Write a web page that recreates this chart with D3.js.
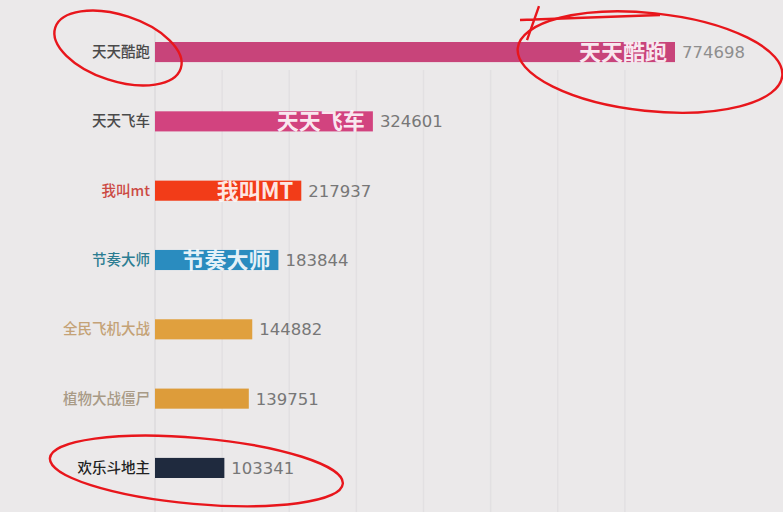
<!DOCTYPE html>
<html><head><meta charset="utf-8">
<script src="https://cdn.jsdelivr.net/npm/d3@7/dist/d3.min.js"></script>
<style>
html,body{margin:0;padding:0;background:#ebe9ea;}
svg{display:block;font-family:"Noto Sans CJK SC","Noto Sans",sans-serif;}
</style></head>
<body>
<svg id="chart" width="783" height="512"></svg>
<script>
const games = ["天天酷跑","天天飞车","我叫mt","节奏大师","全民飞机大战","植物大战僵尸","欢乐斗地主"];
const values = [774698, 324601, 217937, 183844, 144882, 139751, 103341];
const innerLabels = ["天天酷跑","天天飞车","我叫MT","节奏大师","","",""];
const barColors = ["#c8447a","#d2437f","#f23c18","#2a8cbf","#e0a03e","#dd9c3a","#1f2a3e"];
const labelColors = ["#4a4a4a","#4a4a4a","#cc4a44","#2d7d92","#c4a276","#a89a86","#222222"];
const tickValues = [0,100000,200000,300000,400000,500000,600000,700000];

const svg = d3.select("#chart");
const W = 783, H = 512;
const x = d3.scaleLinear().domain([0, 774698]).range([155, 675]);
const y = d3.scaleBand().domain(games).range([42, 478]).paddingInner(0.71).paddingOuter(0);

// grid
svg.append("g").selectAll("line").data(tickValues).join("line")
  .attr("x1", d => x(d)).attr("x2", d => x(d))
  .attr("y1", d => d === 0 ? 30 : 70).attr("y2", H)
  .attr("stroke", d => d === 0 ? "#dcdadc" : "#e2e0e2").attr("stroke-width", 1.5);

const rows = svg.append("g").selectAll("g").data(games).join("g");

rows.append("rect")
  .attr("x", x(0)).attr("y", d => y(d))
  .attr("width", (d,i) => x(values[i]) - x(0))
  .attr("height", y.bandwidth())
  .attr("fill", (d,i) => barColors[i]);

rows.append("text")
  .attr("x", x(0) - 5).attr("y", d => y(d) + y.bandwidth()/2)
  .attr("dy", "0.35em").attr("text-anchor", "end")
  .attr("font-size", 14.5).attr("font-weight", 500)
  .attr("fill", (d,i) => labelColors[i])
  .text(d => d);

rows.append("text")
  .attr("x", (d,i) => x(values[i]) - 8).attr("y", d => y(d) + y.bandwidth()/2)
  .attr("dy", "0.36em").attr("text-anchor", "end")
  .attr("font-size", 22).attr("font-weight", "bold")
  .attr("fill", "#ffffff").attr("fill-opacity", 0.9)
  .text((d,i) => innerLabels[i]);

rows.append("text")
  .attr("x", (d,i) => x(values[i]) + 7).attr("y", d => y(d) + y.bandwidth()/2)
  .attr("dy", "0.36em")
  .attr("font-size", 16.5).attr("font-family", "'DejaVu Sans',sans-serif")
  .attr("fill", (d,i) => i === 0 ? "#8e8e8e" : "#777777")
  .text((d,i) => values[i]);

// red hand-drawn annotation loops, placed relative to the chart's scales
const ann = svg.append("g").attr("fill", "none").attr("stroke", "#e8161c").attr("stroke-width", 2.4);
const first = games[0], last = games[games.length - 1];
const c1y = y(first) + y.bandwidth()/2;
ann.append("ellipse")
  .attr("cx", x(0) - 37).attr("cy", c1y - 4).attr("rx", 66).attr("ry", 33)
  .attr("transform", `rotate(18 ${x(0) - 37} ${c1y - 4})`);
ann.append("ellipse")
  .attr("cx", x(values[0]) - 25).attr("cy", c1y + 10).attr("rx", 133).attr("ry", 49)
  .attr("transform", `rotate(6 ${x(values[0]) - 25} ${c1y + 10})`);
ann.append("path")
  .attr("d", `M${x(values[0]) - 155},${c1y - 32} L${x(values[0]) - 15},${c1y - 37} M${x(values[0]) - 148},${c1y - 12} L${x(values[0]) - 136},${c1y - 46}`);
const c3y = y(last) + y.bandwidth()/2;
ann.append("ellipse")
  .attr("cx", x(values[6]) - 28).attr("cy", c3y + 3).attr("rx", 147).attr("ry", 33)
  .attr("transform", `rotate(5 ${x(values[6]) - 28} ${c3y + 3})`);
</script>
</body></html>
